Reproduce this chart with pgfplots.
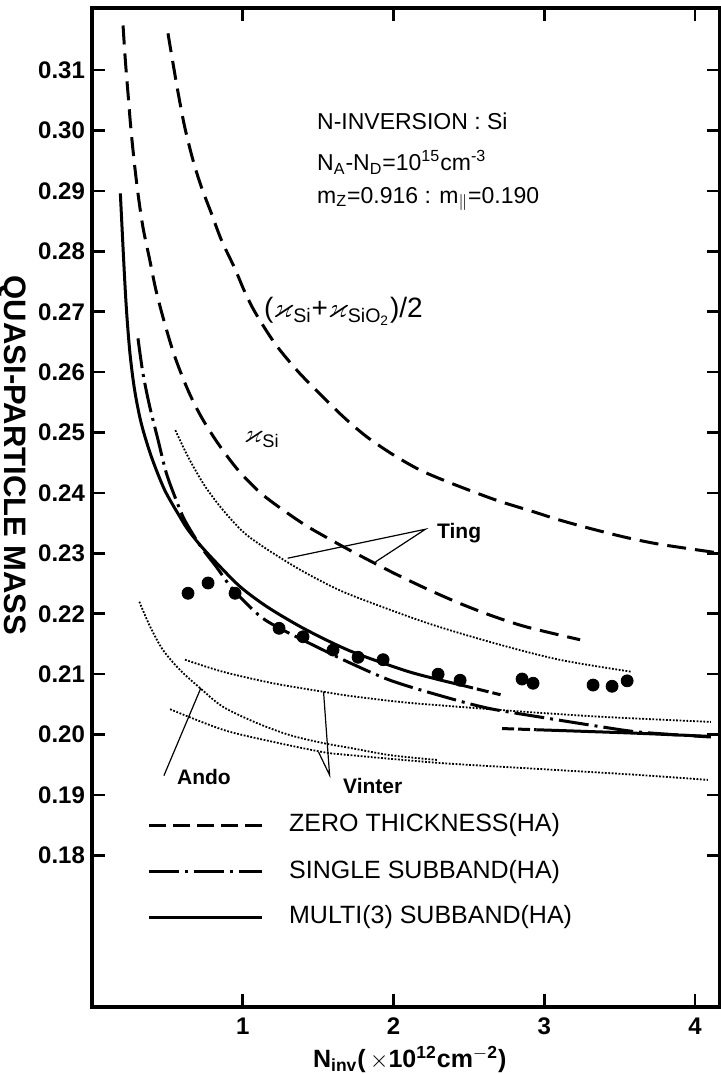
\documentclass[border=0pt]{standalone}
\usepackage{pgfplots}
\pgfplotsset{compat=1.18}
\usepackage{pgfplotstable}
\usepackage{amsmath,amssymb}
\usepackage{fontspec}
\setmainfont{Liberation Sans}

\newcommand\lbl{\fontsize{11.5}{13}\selectfont}
\newcommand\kap{$\varkappa$}

% zero thickness (HA), (kSi+kSiO2)/2
\pgfplotstableread{
x y
0.504 0.3161
0.537 0.3112
0.571 0.3063
0.615 0.3006
0.670 0.2951
0.725 0.2907
0.792 0.2863
0.858 0.2819
0.947 0.2772
1.010 0.2735
1.080 0.2700
1.212 0.2648
1.360 0.2603
1.500 0.2567
1.668 0.2526
1.823 0.2493
2.000 0.2463
2.176 0.2438
2.354 0.2419
2.530 0.2402
2.707 0.2386
2.928 0.2369
3.105 0.2355
3.324 0.2340
3.550 0.2326
3.769 0.2315
4.120 0.2302
4.166 0.2300
}\zerohalf

% zero thickness (HA), kSi
\pgfplotstableread{
x y
0.206 0.3174
0.221 0.3117
0.239 0.3061
0.257 0.3006
0.279 0.2951
0.305 0.2896
0.338 0.2840
0.383 0.2786
0.425 0.2735
0.482 0.2681
0.549 0.2626
0.637 0.2570
0.725 0.2526
0.836 0.2482
0.969 0.2438
1.123 0.2399
1.301 0.2366
1.433 0.2344
1.559 0.2326
1.712 0.2305
1.997 0.2268
2.223 0.2241
2.442 0.2217
2.661 0.2196
2.886 0.2178
3.238 0.2157
}\zerosi

% multi(3) subband, first branch
\pgfplotstableread{
x y
0.188 0.2896
0.199 0.2841
0.210 0.2786
0.222 0.2730
0.235 0.2681
0.254 0.2626
0.283 0.2570
0.327 0.2515
0.394 0.2460
0.482 0.2405
0.582 0.2361
0.637 0.2339
0.720 0.2313
0.827 0.2284
0.982 0.2245
1.159 0.2212
1.380 0.2179
1.601 0.2151
1.778 0.2132
2.090 0.2105
2.300 0.2091
2.450 0.2082
}\multia
\pgfplotstableread{
x y
2.450 0.2082
2.530 0.2077
2.710 0.2066
}\multiad
\pgfplotstableread{
x y
2.720 0.2010
2.950 0.2008
}\multibd
\pgfplotstableread{
x y
2.950 0.2008
3.190 0.2006
3.640 0.2002
4.100 0.1997
}\multib

% single subband
\pgfplotstableread{
x y
0.305 0.2656
0.338 0.2598
0.383 0.2543
0.438 0.2488
0.493 0.2433
0.559 0.2388
0.615 0.2355
0.720 0.2312
0.827 0.2277
0.936 0.2240
1.115 0.2196
1.268 0.2173
1.493 0.2145
1.700 0.2120
1.977 0.2090
2.289 0.2066
2.621 0.2044
2.973 0.2029
3.351 0.2014
3.638 0.2004
4.105 0.1996
}\single

% experiment
\pgfplotstableread{
x y
0.637 0.2234
0.770 0.2251
0.949 0.2234
1.241 0.2176
1.400 0.2162
1.599 0.2140
1.765 0.2128
1.931 0.2124
2.296 0.2100
2.442 0.2090
2.853 0.2092
2.926 0.2085
3.324 0.2082
3.450 0.2080
3.550 0.2089
}\expdata

% Ting
\pgfplotstableread{
x y
0.553 0.2504
0.637 0.2460
0.745 0.2413
0.868 0.2372
1.010 0.2334
1.166 0.2306
1.380 0.2273
1.600 0.2244
1.780 0.2225
2.220 0.2185
2.660 0.2152
3.100 0.2124
3.580 0.2104
}\ting

% Ando
\pgfplotstableread{
x y
0.314 0.2220
0.385 0.2179
0.471 0.2140
0.584 0.2107
0.717 0.2077
0.869 0.2046
1.095 0.2019
1.314 0.1999
1.533 0.1986
1.712 0.1978
1.977 0.1966
2.289 0.1958
}\ando

% Vinter
\pgfplotstableread{
x y
0.617 0.2124
0.869 0.2104
1.201 0.2085
1.533 0.2071
1.712 0.2064
2.087 0.2053
2.594 0.2043
2.973 0.2036
3.417 0.2029
4.105 0.2021
}\vintera
\pgfplotstableread{
x y
0.518 0.2042
0.869 0.2008
1.201 0.1988
1.533 0.1971
1.712 0.1966
2.309 0.1953
2.973 0.1943
3.638 0.1933
4.085 0.1925
}\vinterb

\begin{document}
\begin{tikzpicture}
\begin{axis}[
  name=ax,
  scale only axis, width=314pt, height=499.5pt,
  xmin=0, xmax=4.166, ymin=0.1549, ymax=0.3203,
  xtick={1,2,3,4},
  ytick={0.18,0.19,0.20,0.21,0.22,0.23,0.24,0.25,0.26,0.27,0.28,0.29,0.30,0.31},
  tick align=inside, major tick length=6.5pt,
  axis line style={line width=1.6pt},
  every tick/.style={black, line width=1.3pt},
  /pgf/number format/assume math mode=true,
  ticklabel style={font=\bfseries\fontsize{12}{14}\selectfont},
  yticklabel style={/pgf/number format/fixed, /pgf/number format/fixed zerofill,
    /pgf/number format/precision=2},
  xticklabel style={yshift=-2pt},
  xlabel={N\textsubscript{inv}(\,$\times$10\textsuperscript{12}cm\textsuperscript{$-$2})},
  xlabel style={font=\bfseries\fontsize{12.5}{14}\selectfont,
    at={(axis description cs:0.506,0)}, anchor=base, yshift=-30pt},
  ylabel={QUASI-PARTICLE MASS},
  ylabel style={font=\bfseries\fontsize{15.5}{17}\selectfont,
    at={(axis description cs:-0.1274,0.552)}, anchor=center, rotate=180},
  zero/.style={black, line width=1.5pt, dash pattern=on 9.5pt off 4.5pt},
  sing/.style={black, line width=1.5pt, dash pattern=on 15pt off 3pt on 1.5pt off 3pt},
  mult/.style={black, line width=1.5pt},
  theo/.style={black, line width=0.9pt, dash pattern=on 0.9pt off 0.8pt},
  ptr/.style={black, line width=0.6pt},
  every node/.append style={inner sep=0pt},
]
\addplot[zero, smooth] table {\zerohalf};
\addplot[zero, smooth] table {\zerosi};
\addplot[mult, smooth] table {\multia};
\addplot[mult, smooth, dash pattern=on 6pt off 2pt] table {\multiad};
\addplot[mult, dash pattern=on 6pt off 2pt] table {\multibd};
\addplot[mult, smooth] table {\multib};
\addplot[sing, smooth] table {\single};
\addplot[theo, smooth] table {\ting};
\addplot[theo, smooth] table {\ando};
\addplot[theo, smooth] table {\vintera};
\addplot[theo, smooth] table {\vinterb};
\addplot[only marks, mark=*, mark size=3pt, black] table {\expdata};

% pointers
\addplot[ptr] coordinates {(1.298,0.2292) (2.212,0.2340) (1.881,0.2286)};
\addplot[ptr] coordinates {(0.477,0.1932) (0.722,0.2077)};
\addplot[ptr] coordinates {(1.536,0.2071) (1.576,0.1933) (1.503,0.1971)};

% legend samples
\addplot[zero, dash pattern=on 8.5pt off 3.5pt] coordinates {(0.378,0.1850) (1.128,0.1850)};
\addplot[sing] coordinates {(0.378,0.1773) (1.128,0.1773)};
\addplot[mult] coordinates {(0.378,0.1698) (1.128,0.1698)};

\node[anchor=west, font=\fontsize{12.5}{14}\selectfont] at (axis cs:1.261,0.1850) {ZERO THICKNESS(HA)};
\node[anchor=west, font=\fontsize{12.5}{14}\selectfont] at (axis cs:1.261,0.1773) {SINGLE SUBBAND(HA)};
\node[anchor=west, font=\fontsize{12.5}{14}\selectfont] at (axis cs:1.261,0.1698) {MULTI(3) SUBBAND(HA)};

\node[anchor=base west, font=\lbl] at (axis cs:1.447,0.3001) {N-INVERSION : Si};
\node[anchor=base west, font=\lbl] at (axis cs:1.447,0.2934) {N\textsubscript{A}-N\textsubscript{D}=10\textsuperscript{15}cm\textsuperscript{-3}};
\node[anchor=base west, font=\lbl] at (axis cs:1.447,0.2880) {m\textsubscript{Z}=0.916 : m\textsubscript{$\parallel$}=0.190};

\node[anchor=base west, font=\fontsize{14}{16}\selectfont] at (axis cs:1.095,0.2690) {(\kap\textsubscript{Si}+\kap\textsubscript{SiO\textsubscript{2}})/2};
\node[anchor=base west, font=\fontsize{13}{15}\selectfont] at (axis cs:0.962,0.2483) {\kap\textsubscript{Si}};

\node[anchor=base west, font=\bfseries\fontsize{10.5}{12}\selectfont] at (axis cs:2.243,0.2325) {Ting};
\node[anchor=base west, font=\bfseries\fontsize{10.5}{12}\selectfont] at (axis cs:0.518,0.1918) {Ando};
\node[anchor=base west, font=\bfseries\fontsize{10.5}{12}\selectfont] at (axis cs:1.619,0.1903) {Vinter};
\end{axis}
\pgfresetboundingbox
\path ([shift={(-46pt,-33.5pt)}]ax.south west) rectangle ([shift={(0pt,4pt)}]ax.north east);
\end{tikzpicture}
\end{document}
